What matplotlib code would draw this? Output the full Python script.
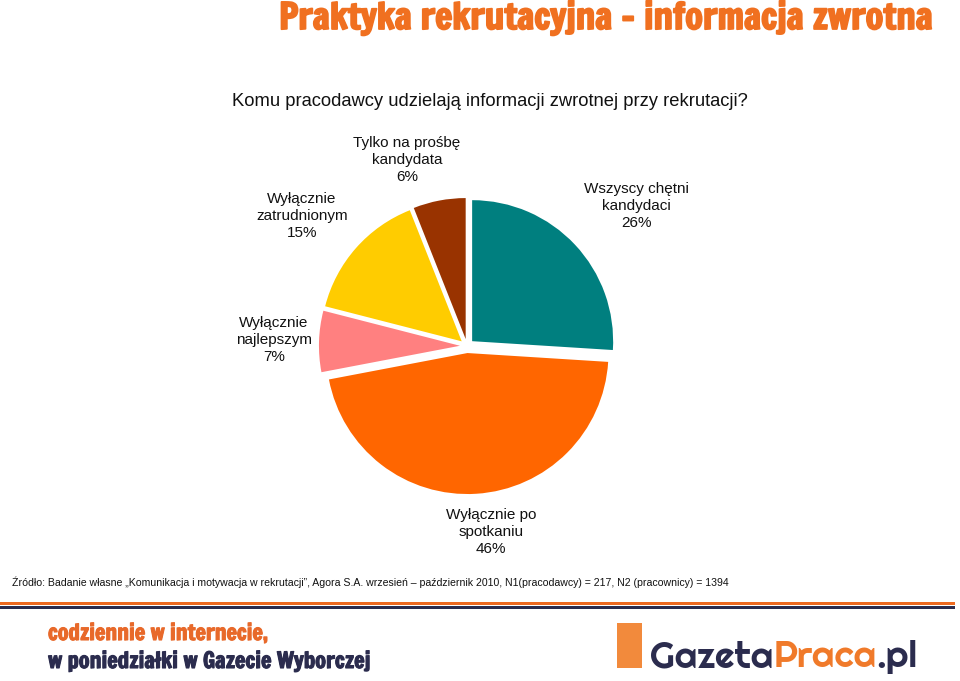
import matplotlib
matplotlib.use("Agg")
import matplotlib.pyplot as plt
from matplotlib.patches import Rectangle
import matplotlib.patheffects as pe

categories = ["Wszyscy chętni\nkandydaci", "Wyłącznie po\nspotkaniu", "Wyłącznie\nnajlepszym",
              "Wyłącznie\nzatrudnionym", "Tylko na prośbę\nkandydata"]
values = [26, 46, 7, 15, 6]
colors = ["#007F7F", "#FF6600", "#FF8080", "#FFCC00", "#993300"]
explode = [0.05, 0.05, 0.05, 0.05, 0.05]
label_pos = [(636, 206), (491, 532), (274, 340), (302, 216), (407, 160)]

title = "Praktyka rekrutacyjna – informacja zwrotna"
subtitle = "Komu pracodawcy udzielają informacji zwrotnej przy rekrutacji?"
source = ("Źródło: Badanie własne „Komunikacja i motywacja w rekrutacji”, Agora S.A. wrzesień – październik 2010, "
          "N1(pracodawcy) = 217, N2 (pracownicy) = 1394")
banner1 = "codziennie w internecie,"
banner2 = "w poniedziałki w Gazecie Wyborczej"
logo_parts = ["Gazeta", "Praca", ".pl"]

W, H = 960, 681
fig = plt.figure(figsize=(W / 100, H / 100), dpi=100)
fig.patch.set_facecolor("white")
renderer = fig.canvas.get_renderer()


def fx(x):
    return x / W


def fy(y):
    return 1 - y / H


def fit_text(x, y, s, target_w, size0, **kw):
    t = fig.text(fx(x), fy(y), s, fontsize=size0, **kw)
    w = t.get_window_extent(renderer).width
    t.set_fontsize(size0 * target_w / w)
    return t


# pie
cx, cy, r, half = 467, 346, 141, 170
ax = fig.add_axes([fx(cx - half), fy(cy + half), 2 * half / W, 2 * half / H])
ax.pie(values, colors=colors, startangle=90, counterclock=False, explode=explode,
       radius=1.0, wedgeprops=dict(linewidth=0))
L = half / r
ax.set_xlim(-L, L)
ax.set_ylim(-L, L)
ax.axis("off")

for cat, v, (px, py) in zip(categories, values, label_pos):
    fig.text(fx(px), fy(py), f"{cat}\n{v}%", ha="center", va="center",
             fontsize=11, family="Liberation Sans", color="#111111", linespacing=1.25)

tt = fit_text(279, 29, title, 655, 26, ha="left", va="baseline", family="Francois One",
              color="#F07020")
tt.set_path_effects([pe.withStroke(linewidth=1.3, foreground="#F07020")])
fig.text(fx(232), fy(101), subtitle, ha="left", va="center", fontsize=13.2,
         family="Liberation Sans", color="#111111")
fig.text(fx(12), fy(582), source, ha="left", va="center", fontsize=7.6,
         family="Liberation Sans", color="#111111")

# banner lines
fig.add_artist(Rectangle((0, fy(605)), fx(955), 3.5 / H, transform=fig.transFigure,
                         color="#EE6A20", lw=0))
fig.add_artist(Rectangle((0, fy(609)), fx(955), 3 / H, transform=fig.transFigure,
                         color="#2B2C4E", lw=0))

b1 = fit_text(48, 640, banner1, 221, 15, ha="left", va="baseline", family="Francois One",
              color="#E8692A")
b1.set_path_effects([pe.withStroke(linewidth=0.8, foreground="#E8692A")])
b2 = fit_text(48, 668, banner2, 323, 15, ha="left", va="baseline", family="Francois One",
              color="#2B2C4E")
b2.set_path_effects([pe.withStroke(linewidth=0.8, foreground="#2B2C4E")])

# logo
fig.add_artist(Rectangle((fx(617), fy(668)), 25 / W, 45 / H, transform=fig.transFigure,
                         color="#F28A3C", lw=0))
logo_colors = ["#2B2C4E", "#F07A2A", "#2B2C4E"]
x = 650
size = 24
ts = []
for part, c in zip(logo_parts, logo_colors):
    t = fig.text(fx(x), fy(667), part, ha="left", va="baseline", fontsize=size,
                 family="Righteous", color=c)
    x = t.get_window_extent(renderer).x1
    ts.append(t)
total = x - 650
scale = 268 / total
x = 650
for t in ts:
    t.set_fontsize(size * scale)
    t.set_x(fx(x))
    x = t.get_window_extent(renderer).x1

fig.savefig("out.png", dpi=100, facecolor="white")
